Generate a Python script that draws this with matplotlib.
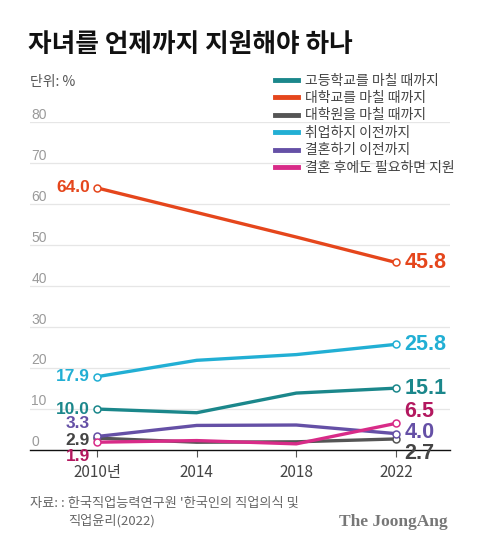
import matplotlib.pyplot as plt
from matplotlib.lines import Line2D

plt.rcParams['font.family'] = ['Noto Sans CJK KR', 'DejaVu Sans']

years = [2010, 2014, 2018, 2022]
year_labels = ['2010년', '2014', '2018', '2022']

series_names = ['고등학교를 마칠 때까지', '대학교를 마칠 때까지', '대학원을 마칠 때까지',
                '취업하지 이전까지', '결혼하기 이전까지', '결혼 후에도 필요하면 지원']
high_school = [10.0, 9.1, 13.9, 15.1]
university = [64.0, 58.0, 52.0, 45.8]
graduate = [2.9, 1.9, 2.0, 2.7]
employment = [17.9, 21.9, 23.3, 25.8]
marriage = [3.3, 6.0, 6.1, 4.0]
after_marriage = [1.9, 2.3, 1.5, 6.5]

colors = ['#1b878b', '#e5461c', '#555555', '#22afd4', '#6550a6', '#d82b88']
label_colors = ['#1b878b', '#e5461c', '#444444', '#22afd4', '#6550a6', '#b3185f']
series = [high_school, university, graduate, employment, marriage, after_marriage]

# label offsets (points) for start / end values, to avoid overlap
start_dy = [0, 0, -2, 0, 9, -10]
end_dy = [0, 0, -10.5, 0, 0.5, 8.5]

fig = plt.figure(figsize=(4.8, 5.48), dpi=100)
W, H = 480, 548
ax = fig.add_axes([30 / W, (H - 450) / H, 420 / W, 327.6 / H])
ax.set_xlim(2007.31, 2024.17)
ax.set_ylim(0, 80)

for v in range(10, 90, 10):
    ax.axhline(v, color='#e6e6e6', lw=0.9, zorder=0)
for v in range(0, 90, 10):
    ax.annotate(str(v), (2007.31, v), xytext=(1, 5.5), textcoords='offset points',
                fontsize=10, color='#9a9a9a', ha='left', va='center', family='Liberation Sans')

order = [1, 3, 0, 2, 4, 5]
for i in order:
    vals = series[i]
    ax.plot(years, vals, color=colors[i], lw=2.4, zorder=3, solid_capstyle='round')
    ax.plot([years[0], years[-1]], [vals[0], vals[-1]], 'o', ms=5, mfc='white',
            mec=colors[i], mew=1.1, zorder=4, clip_on=False)
    ax.annotate(f'{vals[0]:.1f}', (years[0], vals[0]), xytext=(-5, start_dy[i]),
                textcoords='offset points', ha='right', va='center', fontsize=12.5,
                fontweight='bold', color=label_colors[i], family='Liberation Sans')
    ax.annotate(f'{vals[-1]:.1f}', (years[-1], vals[-1]), xytext=(6, end_dy[i]),
                textcoords='offset points', ha='left', va='center', fontsize=15.5,
                fontweight='bold', color=label_colors[i], family='Liberation Sans')

for s in ['top', 'right', 'left']:
    ax.spines[s].set_visible(False)
ax.spines['bottom'].set_color('#111111')
ax.spines['bottom'].set_linewidth(1)
ax.set_yticks([])
ax.set_xticks(years)
ax.set_xticklabels(year_labels, fontsize=11, color='#444444')
ax.tick_params(axis='x', length=5, color='#555555', width=0.8, pad=5)

handles = [Line2D([0], [0], color=c, lw=3.5) for c in colors]
fig.legend(handles, series_names, loc='upper left', bbox_to_anchor=(269 / W, 1 - 68 / H),
           frameon=False, fontsize=10, handlelength=1.7, handletextpad=0.5,
           labelspacing=0.25, labelcolor='#444444', borderaxespad=0)

fig.text(28 / W, 1 - 44 / H, '자녀를 언제까지 지원해야 하나', fontsize=18.5,
         fontweight='bold', va='center', ha='left', color='#111111')
fig.text(30 / W, 1 - 82 / H, '단위: %', fontsize=10, color='#555555', va='center')
fig.text(30 / W, 1 - 503 / H, '자료: : 한국직업능력연구원 \'한국인의 직업의식 및',
         fontsize=9.5, color='#666666', va='center')
fig.text(68 / W, 1 - 521 / H, '직업윤리(2022)', fontsize=9.5, color='#666666', va='center')
fig.text(448 / W, 1 - 522 / H, 'The JoongAng', fontsize=12.5, fontweight='bold',
         family='Liberation Serif', color='#777777', ha='right', va='center')

fig.savefig('out.png', dpi=100, facecolor='white')
